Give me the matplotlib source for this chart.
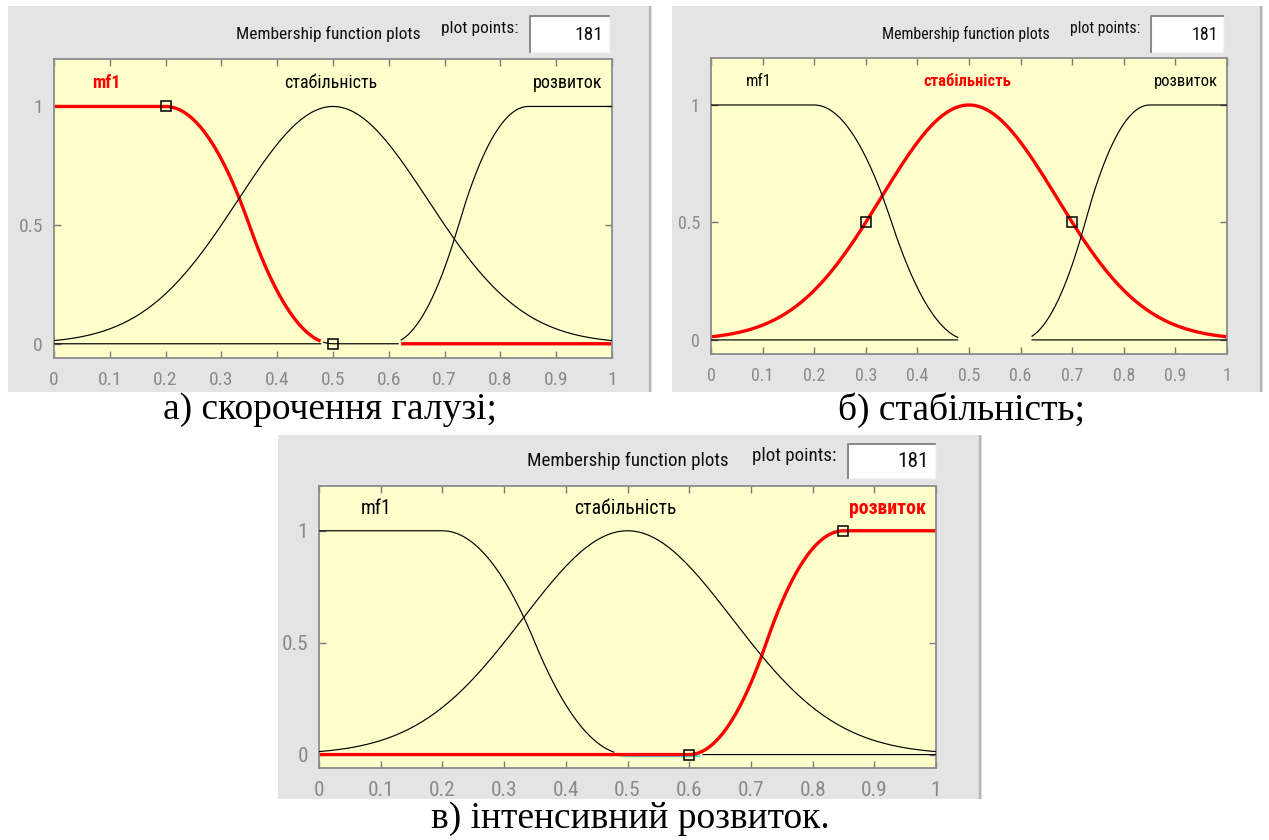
import matplotlib
matplotlib.use('Agg')
import matplotlib.pyplot as plt
import matplotlib.transforms as mtransforms
from matplotlib.patches import Rectangle
import numpy as np

W, H = 1269, 840

# membership functions of the input variable
mf_names = ['mf1', 'стабільність', 'розвиток']
mf_types = ['zmf', 'gaussmf', 'smf']
mf_params = [[0.2, 0.5], [0.17, 0.5], [0.6, 0.85]]
mf_marker_x = [[0.2, 0.5], [0.3, 0.7], [0.6, 0.85]]
plot_points = 181

x_ticks = [0, 0.1, 0.2, 0.3, 0.4, 0.5, 0.6, 0.7, 0.8, 0.9, 1]
x_tick_labels = ['0', '0.1', '0.2', '0.3', '0.4', '0.5', '0.6', '0.7', '0.8', '0.9', '1']
y_ticks = [0, 0.5, 1]
y_tick_labels = ['0', '0.5', '1']

selected_mf = [0, 1, 2]
captions = ['а) скорочення галузі;', 'б) стабільність;', 'в) інтенсивний розвиток.']

# window layout in pixels: grey panel, plot area, caption centre
panels = [
  dict(bg=(8, 6, 652, 392), ax=(54, 59, 612, 358), cap=(330, 410)),
  dict(bg=(672, 6, 1263, 392), ax=(711, 58, 1227, 354), cap=(962, 410)),
  dict(bg=(278, 435, 982, 799), ax=(319, 486, 936, 768), cap=(630, 819)),
]
# how the overlapping zero segments of mf1 and розвиток show up in each window
overlap_style = ['black', None, '#40e0c8']

UI_FONT = ['Roboto Condensed', 'PT Sans Narrow', 'DejaVu Sans']
SERIF = ['Liberation Serif', 'DejaVu Serif']
PANEL_GREY = '#e4e4e4'
PLOT_YELLOW = '#ffffcc'


def zmf(x, a, b):
  m = (a + b) / 2
  return np.where(x <= a, 1.0,
         np.where(x <= m, 1 - 2 * ((x - a) / (b - a)) ** 2,
         np.where(x <= b, 2 * ((x - b) / (b - a)) ** 2, 0.0)))


def smf(x, a, b):
  return 1.0 - zmf(x, a, b)


def gaussmf(x, sigma, c):
  return np.exp(-(x - c) ** 2 / (2 * sigma ** 2))


MF_FUNCS = {'zmf': zmf, 'smf': smf, 'gaussmf': gaussmf}


def fig_rect(box):
  x0, y0, x1, y1 = box
  return [x0 / W, 1 - y1 / H, (x1 - x0) / W, (y1 - y0) / H]


def draw_panel(fig, k, layout, sel, overlap_color):
  bx0, by0, bx1, by1 = layout['bg']
  s = (bx1 - bx0) / 644.0

  # grey window background with header controls
  bg = fig.add_axes(fig_rect(layout['bg']))
  bg.set_xlim(0, 1)
  bg.set_ylim(1, 0)
  bg.set_facecolor(PANEL_GREY)
  bg.set_xticks([])
  bg.set_yticks([])
  for sp in bg.spines.values():
    sp.set_visible(False)
  bg.axvline(0.997, color='#b4b4b4', lw=1.6)
  bg.text(0.497, 0.072, 'Membership function plots', ha='center', va='center',
          fontsize=12.5 * s, family=UI_FONT, color='#101010')
  bg.text(0.733, 0.058, 'plot points:', ha='center', va='center',
          fontsize=12.5 * s, family=UI_FONT, color='#101010')
  bg.add_patch(Rectangle((0.81, 0.026), 0.123, 0.093, facecolor='white',
                         edgecolor='#f4f4f4', lw=1))
  bg.plot([0.81, 0.81, 0.933], [0.119, 0.026, 0.026], color='#808080', lw=1.3)
  bg.text(0.924, 0.074, str(plot_points), ha='right', va='center',
          fontsize=14 * s, family=UI_FONT, color='#101010')

  ax = fig.add_axes(fig_rect(layout['ax']))
  ax.set_facecolor(PLOT_YELLOW)
  ax.set_xlim(0, 1)
  ax.set_ylim(-0.06, 1.2)

  x = np.linspace(0, 1, plot_points)
  ys = [MF_FUNCS[t](x, *p) for t, p in zip(mf_types, mf_params)]
  overlap = (ys[0] < 0.01) & (ys[2] < 0.01)

  # unselected curves in thin black
  for i, y in enumerate(ys):
    if i == sel:
      continue
    yy = y.copy()
    if i in (0, 2):
      yy = np.ma.masked_where(overlap, yy)
    ax.plot(x, yy, color='black', lw=0.85, zorder=3)

  # selected curve in thick red
  y_sel = ys[sel]
  if overlap_color == 'black':
    y_sel = np.ma.masked_where(overlap, y_sel)
  ax.plot(x, y_sel, color='#ff0000', lw=2.4, zorder=2, solid_capstyle='butt')

  if overlap_color == 'black':
    ax.plot(x[overlap], ys[0][overlap], color='black', lw=0.85, zorder=3)
  elif overlap_color is not None:
    below = mtransforms.offset_copy(ax.transData, fig=fig, x=0, y=-1.6, units='dots')
    ax.plot(x[overlap], ys[0][overlap], color=overlap_color, lw=1.3, zorder=1.5,
            transform=below)

  # handles of the selected function
  mx = np.array(mf_marker_x[sel])
  my = MF_FUNCS[mf_types[sel]](mx, *mf_params[sel])
  ax.plot(mx, my, ls='none', marker='s', ms=6.5, mfc='none', mec='black',
          mew=1.1, zorder=4)

  label_x = [0.093, 0.496, 0.921]
  for i, name in enumerate(mf_names):
    is_sel = i == sel
    ax.text(label_x[i], 1.1, name, ha='center', va='center',
            fontsize=13 * s, family=UI_FONT,
            color='#ff0000' if is_sel else 'black',
            fontweight='bold' if is_sel else 'normal')

  ax.set_xticks(x_ticks)
  ax.set_xticklabels(x_tick_labels, family=UI_FONT, fontsize=14 * s)
  ax.set_yticks(y_ticks)
  ax.set_yticklabels(y_tick_labels, family=UI_FONT, fontsize=14 * s)
  ax.tick_params(direction='in', top=True, right=True, length=5, width=1,
                 color='#7a7a7a', labelcolor='#8a8a8a')
  ax.tick_params(axis='x', pad=9)
  ax.tick_params(axis='y', pad=8)
  for sp in ax.spines.values():
    sp.set_color('#8c8c8c')
    sp.set_linewidth(1.3)

  cx, cy = layout['cap']
  fig.text(cx / W, 1 - cy / H, captions[k], ha='center', va='center',
           fontsize=27, family=SERIF)


def main():
  fig = plt.figure(figsize=(W / 100, H / 100), dpi=100, facecolor='white')
  for k, (layout, sel, ov) in enumerate(zip(panels, selected_mf, overlap_style)):
    draw_panel(fig, k, layout, sel, ov)
  fig.savefig('out.png', dpi=100, facecolor='white')


if __name__ == '__main__':
  main()
